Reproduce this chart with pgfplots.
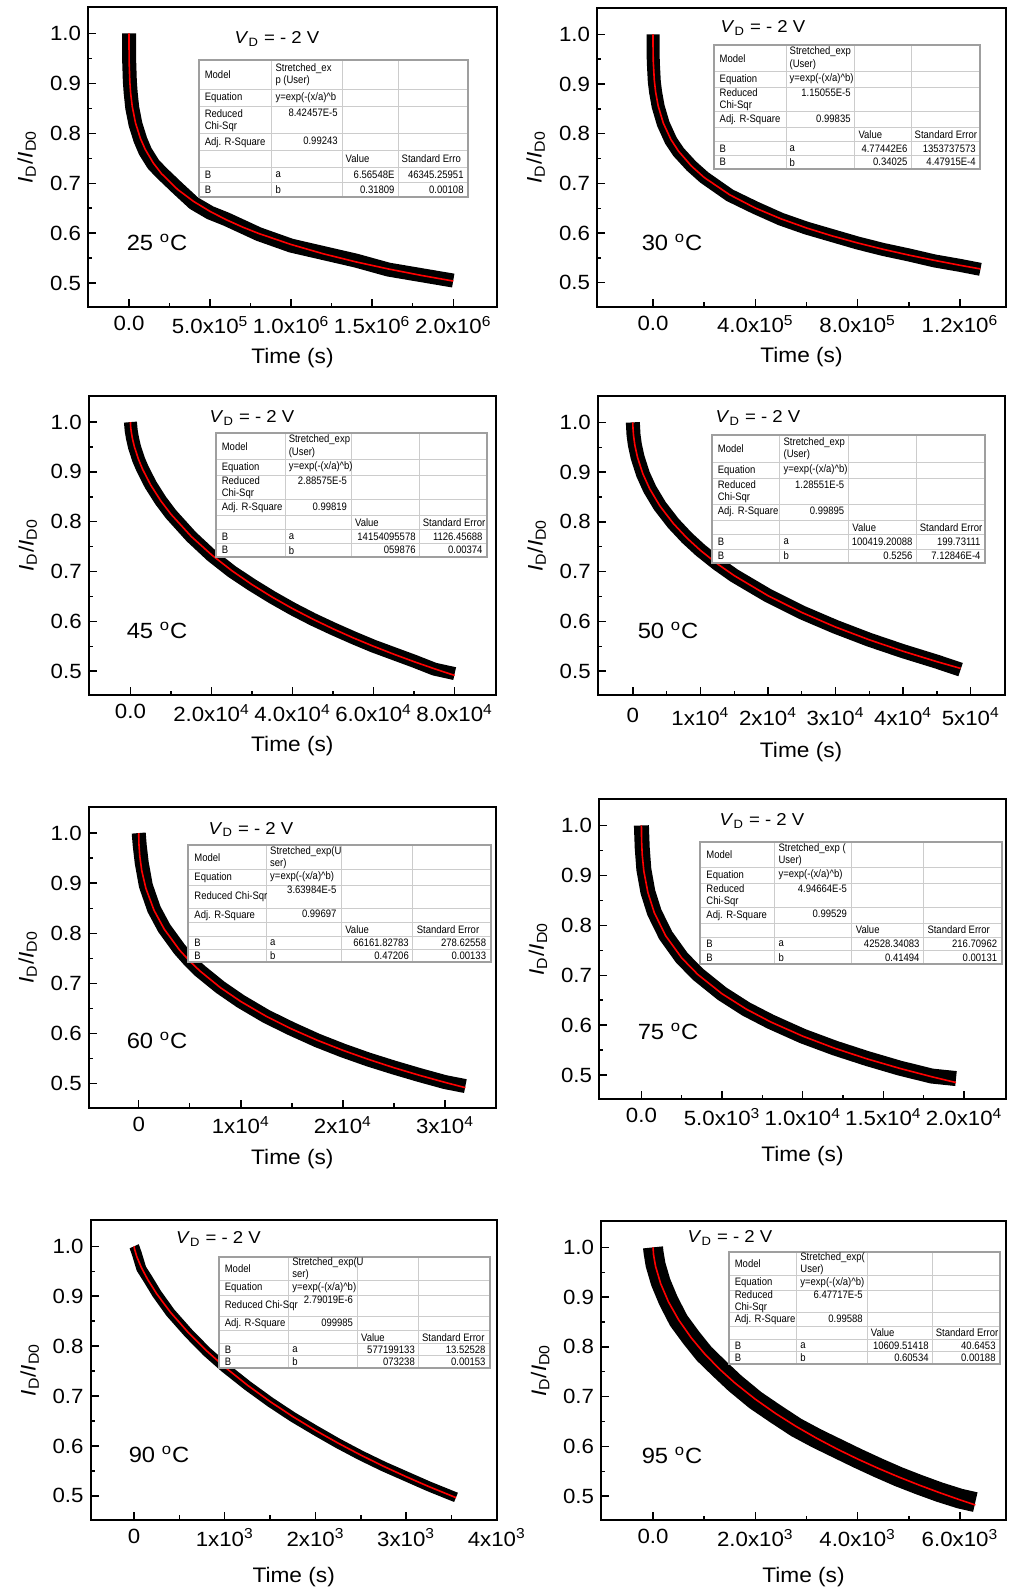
\documentclass[border=0pt]{standalone}
\usepackage{fontspec}
\setmainfont{Liberation Sans}[FakeStretch=1.08]
\newfontfamily\tabfont{Liberation Sans}[FakeStretch=0.88]
\usepackage{pgfplots}
\usepackage{pgfplotstable}
\pgfplotsset{compat=1.18}

% x = time, d = measured band, f = stretched-exp fit
\pgfplotstableread{
x d f
0 1.000 1.000
100 0.985 0.9711
1000 0.945 0.9408
5000 0.905 0.9031
10000 0.882 0.8807
20000 0.851 0.8536
40000 0.818 0.8209
70000 0.787 0.7899
100000 0.764 0.7678
150000 0.738 0.7404
200000 0.721 0.7193
300000 0.690 0.6874
400000 0.660 0.6632
500000 0.641 0.6435
600000 0.628 0.6268
700000 0.613 0.6122
800000 0.598 0.5993
1000000 0.575 0.5772
1200000 0.560 0.5585
1400000 0.545 0.5424
1600000 0.527 0.5282
1800000 0.516 0.5155
2000000 0.505 0.5040
}\dataA
\pgfplotstableread{
x d f
0 1.000 1.000
100 0.985 0.9747
1000 0.945 0.9455
5000 0.905 0.9077
10000 0.884 0.8846
20000 0.855 0.8562
40000 0.820 0.8216
70000 0.786 0.7884
100000 0.763 0.7646
150000 0.735 0.7349
200000 0.712 0.7119
300000 0.676 0.6770
400000 0.651 0.6504
500000 0.628 0.6287
600000 0.610 0.6103
700000 0.595 0.5943
800000 0.580 0.5801
900000 0.567 0.5673
1000000 0.556 0.5557
1100000 0.544 0.5451
1200000 0.535 0.5352
1280000 0.527 0.5278
}\dataB
\pgfplotstableread{
x d f
0 1.000 1.000
50 0.995 0.9915
200 0.982 0.9805
500 0.968 0.9665
1000 0.950 0.9498
2000 0.925 0.9249
3000 0.906 0.9053
5000 0.874 0.8736
7500 0.842 0.8418
10000 0.815 0.8150
15000 0.770 0.7704
20000 0.732 0.7336
25000 0.700 0.7018
30000 0.673 0.6737
35000 0.648 0.6485
40000 0.625 0.6255
45000 0.604 0.6044
50000 0.585 0.5849
55000 0.567 0.5667
60000 0.550 0.5498
65000 0.535 0.5339
70000 0.520 0.5189
75000 0.504 0.5047
80000 0.495 0.4913
}\dataC
\pgfplotstableread{
x d f
0 1.000 1.000
20 0.995 0.9887
100 0.975 0.9739
300 0.955 0.9540
700 0.930 0.9291
1500 0.896 0.8961
2500 0.866 0.8663
4000 0.832 0.8321
6000 0.797 0.7966
8000 0.768 0.7676
10000 0.743 0.7427
12500 0.716 0.7157
15000 0.692 0.6920
20000 0.652 0.6517
25000 0.618 0.6179
30000 0.589 0.5886
35000 0.563 0.5629
40000 0.540 0.5399
45000 0.519 0.5190
48500 0.503 0.5055
}\dataD
\pgfplotstableread{
x d f
0 1.000 1.000
20 0.995 0.9784
100 0.975 0.9545
300 0.940 0.9247
700 0.895 0.8898
1500 0.848 0.8459
2500 0.810 0.8082
4000 0.768 0.7665
5000 0.745 0.7442
6000 0.725 0.7247
8000 0.692 0.6915
10000 0.664 0.6638
12500 0.634 0.6342
15000 0.609 0.6088
17500 0.586 0.5864
20000 0.566 0.5664
22500 0.548 0.5483
25000 0.532 0.5317
27500 0.517 0.5165
30000 0.503 0.5024
32000 0.495 0.4918
}\dataE
\pgfplotstableread{
x d f
0 1.000 1.000
10 0.990 0.9693
50 0.955 0.9410
150 0.912 0.9085
400 0.867 0.8657
800 0.826 0.8251
1500 0.780 0.7791
2500 0.735 0.7345
3500 0.702 0.7013
5000 0.663 0.6628
6500 0.632 0.6321
8000 0.607 0.6066
10000 0.578 0.5779
12000 0.554 0.5535
14000 0.533 0.5323
16000 0.514 0.5135
18000 0.498 0.4966
19500 0.493 0.4850
}\dataF
\pgfplotstableread{
x d f
0 1.000 1.000
5 0.998 0.9943
30 0.985 0.9790
80 0.955 0.9574
150 0.935 0.9333
250 0.905 0.9045
400 0.867 0.8680
600 0.826 0.8265
800 0.789 0.7904
1000 0.757 0.7581
1250 0.721 0.7217
1500 0.688 0.6889
1750 0.658 0.6588
2000 0.631 0.6312
2250 0.605 0.6056
2500 0.581 0.5817
2750 0.559 0.5593
3000 0.539 0.5384
3250 0.519 0.5186
3550 0.497 0.4964
}\dataG
\pgfplotstableread{
x d f
0 1.000 1.000
10 0.990 0.9854
50 0.965 0.9617
150 0.930 0.9269
300 0.893 0.8909
500 0.853 0.8544
750 0.818 0.8178
1000 0.786 0.7871
1300 0.756 0.7553
1600 0.727 0.7275
2000 0.693 0.6948
2400 0.665 0.6659
2800 0.638 0.6399
3200 0.616 0.6163
3600 0.596 0.5946
4000 0.576 0.5746
4400 0.557 0.5560
4800 0.539 0.5386
5200 0.523 0.5223
5600 0.508 0.5070
6000 0.495 0.4925
6300 0.488 0.4822
}\dataH

\pgfplotsset{
  panel/.style={
    scale only axis, anchor=north west,
    ymin=0.452, ymax=1.053,
    ytick={0.5,0.6,0.7,0.8,0.9,1.0},
    yticklabels={0.5,0.6,0.7,0.8,0.9,1.0},
    minor x tick num=1, minor y tick num=1,
    tick align=inside, tick pos=left,
    major tick length=4pt, minor tick length=2.2pt,
    tick style={black, line width=0.7pt},
    axis line style={line width=1pt},
    scaled x ticks=false,
    tick label style={font=\fontsize{10.3}{12}\selectfont},
    label style={font=\fontsize{10.5}{12}\selectfont},
    xticklabel style={yshift=-1pt},
    xlabel={Time (s)},
    ylabel={\textit{I}\textsubscript{D}/\textit{I}\textsubscript{D0}},
    xlabel style={at={(axis description cs:0.5,-0.17)}, anchor=center},
    ylabel style={at={(axis description cs:-0.15,0.5)}, anchor=center},
  },
  band/.style={black, line width=#1, no marks, line join=round},
  fit/.style={red, line width=0.8pt, no marks},
}

% table geometry in pixels: x, y, width, height, column splits
\newcommand\settab[7]{%
  \pgfmathsetlengthmacro\tabX{0.5pt*#1}%
  \pgfmathsetlengthmacro\tabY{-0.5pt*#2}%
  \pgfmathsetlengthmacro\tabW{0.5pt*#3}%
  \pgfmathsetlengthmacro\tabH{-0.5pt*#4}%
  \def\ca{#5}\def\cb{#6}\def\cc{#7}}
\def\tabchi{Reduced\\Chi-Sqr}
\tikzset{tabtext/.style={inner sep=0pt, font=\tabfont\fontsize{5.4}{6.1}\selectfont}}
\newcommand\fittab[9]{%
  \begin{scope}[shift={(\tabX,\tabY)}, x=\tabW, y=\tabH, every node/.style={tabtext}]
    \fill[white] (0,0) rectangle (1,1);
    \foreach \ry in {0.212,0.343,0.540,0.664,0.781,0.891}
      \draw[gray!40, line width=0.5pt] (0,\ry) -- (1,\ry);
    \foreach \cx in {\ca,\cb,\cc}
      \draw[gray!40, line width=0.5pt] (\cx,0) -- (\cx,1);
    \draw[gray!75, line width=0.8pt] (0,0) rectangle (1,1);
    \node[anchor=west] at (0.02,0.106) {Model};
    \node[anchor=west, align=left] at (\ca+0.012,0.106) {#1};
    \node[anchor=west] at (0.02,0.278) {Equation};
    \node[anchor=west] at (\ca+0.012,0.272) {#2};
    \node[anchor=west, align=left] at (0.02,0.442) {\tabchi};
    \node[anchor=east] at (\cb-0.015,0.385) {#3};
    \node[anchor=west] at (0.02,0.602) {Adj. R-Square};
    \node[anchor=east] at (\cb-0.015,0.592) {#4};
    \node[anchor=west] at (\cb+0.012,0.722) {Value};
    \node[anchor=west] at (\cc+0.012,0.722) {#5};
    \node[anchor=west] at (0.02,0.836) {B};
    \node[anchor=west] at (\ca+0.012,0.836) {a};
    \node[anchor=east] at (\cc-0.012,0.836) {#6};
    \node[anchor=east] at (0.985,0.836) {#7};
    \node[anchor=west] at (0.02,0.945) {B};
    \node[anchor=west] at (\ca+0.012,0.945) {b};
    \node[anchor=east] at (\cc-0.012,0.945) {#8};
    \node[anchor=east] at (0.985,0.945) {#9};
  \end{scope}}

\newcommand\vd[2]{\node[font=\fontsize{8.6}{10}\selectfont] at (#1pt,#2pt) {\textit{V}\textsubscript{D} = - 2 V};}
\newcommand\temp[3]{\node[font=\fontsize{11}{13}\selectfont] at (#1pt,#2pt) {#3 \textsuperscript{o}C};}

\begin{document}
\begin{tikzpicture}
\path[use as bounding box] (0,0) rectangle (504pt,-795.5pt);

% 25 C
\begin{axis}[panel, at={(44pt,-3.5pt)}, width=204.5pt, height=150pt,
  xmin=-2.53e5, xmax=2.27e6, xtick={0,5e5,1e6,1.5e6,2e6},
  xticklabels={0.0, 5.0x10\textsuperscript{5}, 1.0x10\textsuperscript{6}, 1.5x10\textsuperscript{6}, 2.0x10\textsuperscript{6}}]
\addplot[band=7pt] table[x=x,y=d] {\dataA};
\addplot[fit] table[x=x,y=f] {\dataA};
\end{axis}

% 30 C
\begin{axis}[panel, at={(298.5pt,-4pt)}, width=204.5pt, height=149.3pt,
  xmin=-2.19e5, xmax=1.38e6, xtick={0,4e5,8e5,1.2e6},
  xticklabels={0.0, 4.0x10\textsuperscript{5}, 8.0x10\textsuperscript{5}, 1.2x10\textsuperscript{6}}]
\addplot[band=6.5pt] table[x=x,y=d] {\dataB};
\addplot[fit] table[x=x,y=f] {\dataB};
\end{axis}

% 45 C
\begin{axis}[panel, at={(44.35pt,-197.85pt)}, width=203.65pt, height=149.65pt,
  xmin=-1.03e4, xmax=9.02e4, xtick={0,2e4,4e4,6e4,8e4},
  xticklabels={0.0, 2.0x10\textsuperscript{4}, 4.0x10\textsuperscript{4}, 6.0x10\textsuperscript{4}, 8.0x10\textsuperscript{4}}]
\addplot[band=6.5pt] table[x=x,y=d] {\dataC};
\addplot[fit] table[x=x,y=f] {\dataC};
\end{axis}

% 50 C
\begin{axis}[panel, at={(298.85pt,-198pt)}, width=203.4pt, height=149.5pt,
  xmin=-5200, xmax=55000, xtick={0,1e4,2e4,3e4,4e4,5e4},
  xticklabels={0, 1x10\textsuperscript{4}, 2x10\textsuperscript{4}, 3x10\textsuperscript{4}, 4x10\textsuperscript{4}, 5x10\textsuperscript{4}},
  xticklabel style={yshift=-2pt},
  xlabel style={at={(axis description cs:0.5,-0.19)}}]
\addplot[band=7pt] table[x=x,y=d] {\dataD};
\addplot[fit] table[x=x,y=f] {\dataD};
\end{axis}

% 60 C
\begin{axis}[panel, at={(44.35pt,-403.25pt)}, width=203.65pt, height=150.55pt,
  xmin=-4900, xmax=35000, xtick={0,1e4,2e4,3e4},
  xticklabels={0, 1x10\textsuperscript{4}, 2x10\textsuperscript{4}, 3x10\textsuperscript{4}}]
\addplot[band=7pt] table[x=x,y=d] {\dataE};
\addplot[fit] table[x=x,y=f] {\dataE};
\end{axis}

% 75 C
\begin{axis}[panel, at={(299.5pt,-399.5pt)}, width=203.5pt, height=150pt,
  xmin=-2630, xmax=22600, xtick={0,5000,10000,15000,20000},
  xticklabels={0.0, 5.0x10\textsuperscript{3}, 1.0x10\textsuperscript{4}, 1.5x10\textsuperscript{4}, 2.0x10\textsuperscript{4}},
  xlabel style={at={(axis description cs:0.5,-0.19)}}]
\addplot[band=7.5pt] table[x=x,y=d] {\dataF};
\addplot[fit] table[x=x,y=f] {\dataF};
\end{axis}

% 90 C
\begin{axis}[panel, at={(45.3pt,-609.9pt)}, width=203.1pt, height=150pt,
  xmin=-480, xmax=4000, xtick={0,1000,2000,3000,4000},
  xticklabels={0, 1x10\textsuperscript{3}, 2x10\textsuperscript{3}, 3x10\textsuperscript{3}, 4x10\textsuperscript{3}},
  xlabel style={at={(axis description cs:0.5,-0.19)}}]
\addplot[band=5pt] table[x=x,y=d] {\dataG};
\addplot[fit] table[x=x,y=f] {\dataG};
\end{axis}

% 95 C
\begin{axis}[panel, at={(300.5pt,-610.5pt)}, width=202.5pt, height=149.5pt,
  xmin=-1017, xmax=6900, xtick={0,2000,4000,6000},
  xticklabels={0.0, 2.0x10\textsuperscript{3}, 4.0x10\textsuperscript{3}, 6.0x10\textsuperscript{3}},
  xlabel style={at={(axis description cs:0.5,-0.19)}}]
\addplot[band=10pt] table[x=x,y=d] {\dataH};
\addplot[fit] table[x=x,y=f] {\dataH};
\end{axis}

% labels
\vd{138.5}{-19.5} \temp{78.5}{-121}{25}
\vd{381.5}{-14}   \temp{336}{-121}{30}
\vd{126}{-209}    \temp{78.5}{-315}{45}
\vd{379}{-209}    \temp{334}{-315}{50}
\vd{125.5}{-414.75} \temp{78.5}{-520}{60}
\vd{381}{-410.5}  \temp{334}{-515.5}{75}
\vd{109.25}{-619.5} \temp{79.5}{-727.25}{90}
\vd{365}{-619}    \temp{336}{-727.5}{95}

% fit tables
\settab{199}{60}{269}{137}{0.271}{0.532}{0.740}
\fittab{Stretched\_ex\\p (User)}{y=exp(-(x/a)\textasciicircum b}{8.42457E-5}{0.99243}{Standard Erro}{6.56548E}{46345.25951}{0.31809}{0.00108}

\settab{714}{45}{266}{124}{0.271}{0.530}{0.741}
\fittab{Stretched\_exp\\(User)}{y=exp(-(x/a)\textasciicircum b)}{1.15055E-5}{0.99835}{Standard Error}{4.77442E6}{1353737573}{0.34025}{4.47915E-4}

\settab{216}{433}{271}{124}{0.255}{0.500}{0.750}
\fittab{Stretched\_exp\\(User)}{y=exp(-(x/a)\textasciicircum b)}{2.88575E-5}{0.99819}{Standard Error}{14154095578}{1126.45688}{059876}{0.00374}

\settab{712}{435}{273}{128}{0.249}{0.501}{0.748}
\fittab{Stretched\_exp\\(User)}{y=exp(-(x/a)\textasciicircum b)}{1.28551E-5}{0.99895}{Standard Error}{100419.20088}{199.73111}{0.5256}{7.12846E-4}

\def\tabchi{Reduced Chi-Sqr}
\settab{188}{845}{303}{117}{0.258}{0.506}{0.742}
\fittab{Stretched\_exp(U\\ser)}{y=exp(-(x/a)\textasciicircum b)}{3.63984E-5}{0.99697}{Standard Error}{66161.82783}{278.62558}{0.47206}{0.00133}

\def\tabchi{Reduced\\Chi-Sqr}
\settab{700}{842}{302}{122}{0.247}{0.503}{0.740}
\fittab{Stretched\_exp (\\User)}{y=exp(-(x/a)\textasciicircum b)}{4.94664E-5}{0.99529}{Standard Error}{42528.34083}{216.70962}{0.41494}{0.00131}

\def\tabchi{Reduced Chi-Sqr}
\settab{219}{1257}{271}{111}{0.257}{0.511}{0.736}
\fittab{Stretched\_exp(U\\ser)}{y=exp(-(x/a)\textasciicircum b)}{2.79019E-6}{099985}{Standard Error}{577199133}{13.52528}{073238}{0.00153}

\def\tabchi{Reduced\\Chi-Sqr}
\settab{729}{1252}{271}{112}{0.250}{0.510}{0.750}
\fittab{Stretched\_exp(\\User)}{y=exp(-(x/a)\textasciicircum b)}{6.47717E-5}{0.99588}{Standard Error}{10609.51418}{40.6453}{0.60534}{0.00188}

\end{tikzpicture}
\end{document}
